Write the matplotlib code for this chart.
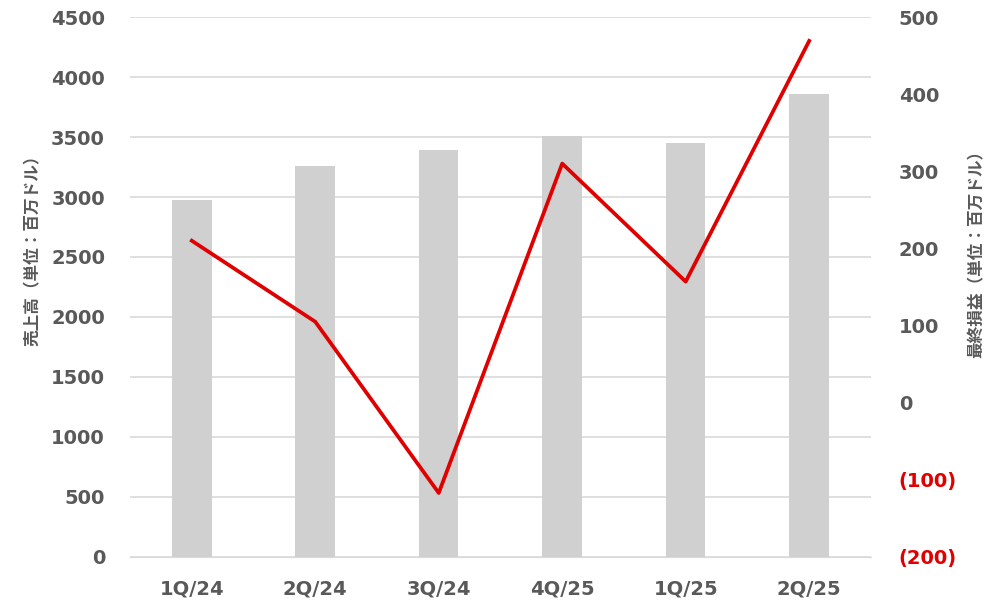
import matplotlib
matplotlib.use('Agg')
import matplotlib.pyplot as plt

plt.rcParams['font.family'] = ['DejaVu Sans', 'Noto Sans CJK JP']

# --- data ---
quarters = ['1Q/24', '2Q/24', '3Q/24', '4Q/25', '1Q/25', '2Q/25']
revenue = [2975, 3258, 3392, 3508, 3450, 3858]
net_income = [210, 105, -117, 310, 157, 469]

left_ticks = list(range(0, 4501, 500))
right_ticks = list(range(-200, 501, 100))

gray = '#595959'
red = '#e00000'

# --- figure ---
fig = plt.figure(figsize=(10.08, 6.03), dpi=100)
ax = fig.add_axes([0.129, 0.0763, 0.735, 0.8955])
x = list(range(len(quarters)))

ax.bar(x, revenue, width=0.32, color='#d0d0d0', zorder=2)
ax.set_xlim(-0.5, len(quarters) - 0.5)
ax.set_ylim(0, 4500)
ax.set_yticks(left_ticks)
ax.set_xticks(x)
ax.set_xticklabels(quarters)
ax.grid(axis='y', color='#d9d9d9', linewidth=1.2, zorder=0)
ax.set_axisbelow(True)
for s in ['top', 'left', 'right']:
    ax.spines[s].set_visible(False)
ax.spines['bottom'].set_color('#d9d9d9')
ax.tick_params(axis='both', length=0, labelsize=14, labelcolor=gray)
ax.tick_params(axis='y', pad=18)
ax.tick_params(axis='x', pad=16)
for lbl in ax.get_xticklabels() + ax.get_yticklabels():
    lbl.set_fontweight('bold')
ax.set_ylabel('売上高（単位：百万ドル）', family=['Noto Sans CJK JP'],
              fontsize=12, fontweight='bold', color=gray)
ax.yaxis.set_label_coords(-0.119, 0.575)

# --- net income line ---
ax2 = ax.twinx()
ax2.plot(x, net_income, color=red, linewidth=2.7, zorder=3)
ax2.set_ylim(-200, 500)
ax2.set_yticks(right_ticks)
ax2.set_yticklabels([f'({-v})' if v < 0 else str(v) for v in right_ticks])
for s in ax2.spines.values():
    s.set_visible(False)
ax2.tick_params(axis='y', length=0, labelsize=14, labelcolor=gray, pad=20)
for v, lbl in zip(right_ticks, ax2.get_yticklabels()):
    lbl.set_fontweight('bold')
    if v < 0:
        lbl.set_color(red)
ax2.set_ylabel('最終損益（単位：百万ドル）', family=['Noto Sans CJK JP'],
               fontsize=12, fontweight='bold', color=gray, rotation=90)
ax2.yaxis.set_label_coords(1.131, 0.568)

plt.savefig('out.png', dpi=100)
plt.close()
